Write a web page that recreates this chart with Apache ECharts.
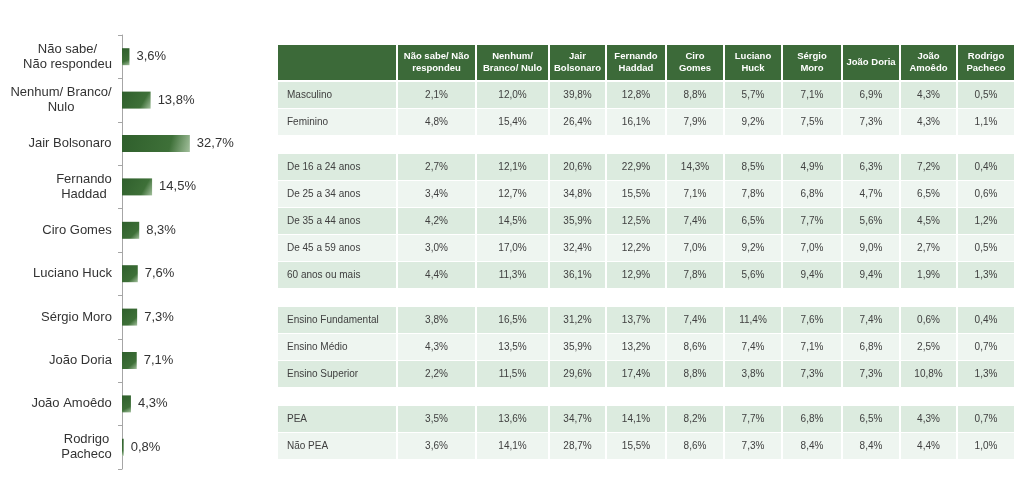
<!DOCTYPE html>
<html>
<head>
<meta charset="utf-8">
<script src="https://cdn.jsdelivr.net/npm/echarts@6/dist/echarts.min.js"></script>
<style>
  html, body { margin: 0; padding: 0; background: #fff; }
  #chart { width: 1017px; height: 482px; }
</style>
</head>
<body>
<div id="chart"></div>
<script>
// Intenção de voto (total)
var candidates = ['Não sabe/\nNão respondeu', 'Nenhum/ Branco/\nNulo', 'Jair Bolsonaro', 'Fernando\nHaddad',
    'Ciro Gomes', 'Luciano Huck', 'Sérgio Moro', 'João Doria', 'João Amoêdo', 'Rodrigo\nPacheco'];
var totals = [3.6, 13.8, 32.7, 14.5, 8.3, 7.6, 7.3, 7.1, 4.3, 0.8];

// Tabela por segmento
var tableHeaders = ['Não sabe/ Não\nrespondeu', 'Nenhum/\nBranco/ Nulo', 'Jair\nBolsonaro', 'Fernando\nHaddad',
    'Ciro\nGomes', 'Luciano\nHuck', 'Sérgio\nMoro', 'João Doria', 'João\nAmoêdo', 'Rodrigo\nPacheco'];
var rowGroups = [2, 5, 3, 2];
var rowLabels = ['Masculino', 'Feminino',
    'De 16 a 24 anos', 'De 25 a 34 anos', 'De 35 a 44 anos', 'De 45 a 59 anos', '60 anos ou mais',
    'Ensino Fundamental', 'Ensino Médio', 'Ensino Superior',
    'PEA', 'Não PEA'];
var rowValues = [
    [2.1, 12.0, 39.8, 12.8, 8.8, 5.7, 7.1, 6.9, 4.3, 0.5],
    [4.8, 15.4, 26.4, 16.1, 7.9, 9.2, 7.5, 7.3, 4.3, 1.1],
    [2.7, 12.1, 20.6, 22.9, 14.3, 8.5, 4.9, 6.3, 7.2, 0.4],
    [3.4, 12.7, 34.8, 15.5, 7.1, 7.8, 6.8, 4.7, 6.5, 0.6],
    [4.2, 14.5, 35.9, 12.5, 7.4, 6.5, 7.7, 5.6, 4.5, 1.2],
    [3.0, 17.0, 32.4, 12.2, 7.0, 9.2, 7.0, 9.0, 2.7, 0.5],
    [4.4, 11.3, 36.1, 12.9, 7.8, 5.6, 9.4, 9.4, 1.9, 1.3],
    [3.8, 16.5, 31.2, 13.7, 7.4, 11.4, 7.6, 7.4, 0.6, 0.4],
    [4.3, 13.5, 35.9, 13.2, 8.6, 7.4, 7.1, 6.8, 2.5, 0.7],
    [2.2, 11.5, 29.6, 17.4, 8.8, 3.8, 7.3, 7.3, 10.8, 1.3],
    [3.5, 13.6, 34.7, 14.1, 8.2, 7.7, 6.8, 6.5, 4.3, 0.7],
    [3.6, 14.1, 28.7, 15.5, 8.6, 7.3, 8.4, 8.4, 4.4, 1.0]
];

var FONT = 'Liberation Sans, Arial, sans-serif';

function pct(v) {
    return v.toFixed(1).replace('.', ',') + '%';
}

// multi-line axis labels: lines centred inside a right-aligned block
var measureCtx = document.createElement('canvas').getContext('2d');
measureCtx.font = '13px ' + FONT;
var labelRich = {};
candidates.forEach(function (name, i) {
    var w = 0;
    name.split('\n').forEach(function (line) {
        w = Math.max(w, measureCtx.measureText(line).width);
    });
    labelRich['c' + i] = { width: Math.ceil(w), align: 'center', fontSize: 13, color: '#333', lineHeight: 15 };
});

// layout of the table (in the table grid's own units)
var colWidths = [120, 79, 73, 57, 60, 58, 58, 60, 58, 57, 58];
var headerH = 36, rowH = 27, groupGap = 18;
var colEdges = [0];
colWidths.forEach(function (w) { colEdges.push(colEdges[colEdges.length - 1] + w); });

var cells = [];
// header
for (var c = 0; c < colWidths.length; c++) {
    cells.push({
        value: [colEdges[c], colEdges[c + 1], 0, headerH],
        text: c === 0 ? '' : tableHeaders[c - 1],
        kind: 'header', col: c
    });
}
var y = headerH + 1, r = 0;
rowGroups.forEach(function (n, g) {
    if (g > 0) y += groupGap;
    for (var k = 0; k < n; k++, r++) {
        for (var c2 = 0; c2 < colWidths.length; c2++) {
            cells.push({
                value: [colEdges[c2], colEdges[c2 + 1], y, y + rowH],
                text: c2 === 0 ? rowLabels[r] : pct(rowValues[r][c2 - 1]),
                kind: k % 2 === 0 ? 'dark' : 'light', col: c2
            });
        }
        y += rowH;
    }
});
var tableH = y;

var fills = { header: '#3c6a39', dark: '#dcebdf', light: '#eef5f0' };

var chart = echarts.init(document.getElementById('chart'));
chart.setOption({
    backgroundColor: '#ffffff',
    animation: false,
    textStyle: { fontFamily: FONT },
    grid: [
        { left: 122, top: 35, width: 83, height: 434 },
        { left: 278, top: 45, width: colEdges[colEdges.length - 1], height: tableH }
    ],
    xAxis: [
        { gridIndex: 0, type: 'value', min: 0, max: 40, show: false },
        { gridIndex: 1, type: 'value', min: 0, max: colEdges[colEdges.length - 1], show: false }
    ],
    yAxis: [
        {
            gridIndex: 0,
            type: 'category',
            inverse: true,
            data: candidates,
            axisLine: { show: true, lineStyle: { color: '#a6a6a6', width: 1 } },
            axisTick: { show: true, length: 4, lineStyle: { color: '#a6a6a6' } },
            axisLabel: {
                color: '#333',
                fontSize: 13,
                margin: 10,
                lineHeight: 15,
                align: 'right',
                formatter: function (value, idx) {
                    return value.split('\n').map(function (line) {
                        return '{c' + idx + '|' + line + '}';
                    }).join('\n');
                },
                rich: labelRich
            }
        },
        { gridIndex: 1, type: 'value', min: 0, max: tableH, inverse: true, show: false }
    ],
    series: [
        {
            type: 'bar',
            xAxisIndex: 0,
            yAxisIndex: 0,
            data: totals,
            barWidth: 17,
            itemStyle: {
                color: new echarts.graphic.LinearGradient(0, 0, 1, 1, [
                    { offset: 0, color: '#2f5f2c' },
                    { offset: 0.7, color: '#3e7038' },
                    { offset: 1, color: '#a3c09d' }
                ])
            },
            label: {
                show: true,
                position: 'right',
                distance: 7,
                color: '#333',
                fontSize: 13,
                formatter: function (p) { return pct(p.value); }
            }
        },
        {
            type: 'custom',
            xAxisIndex: 1,
            yAxisIndex: 1,
            data: cells.map(function (d) { return d.value; }),
            renderItem: function (params, api) {
                var cell = cells[params.dataIndex];
                var p0 = api.coord([api.value(0), api.value(2)]);
                var p1 = api.coord([api.value(1), api.value(3)]);
                var w = p1[0] - p0[0] - 2;
                var h = p1[1] - p0[1] - 1;
                var isHeader = cell.kind === 'header';
                var isLabel = cell.col === 0;
                return {
                    type: 'group',
                    children: [
                        {
                            type: 'rect',
                            shape: { x: p0[0], y: p0[1], width: w, height: h },
                            style: { fill: fills[cell.kind] }
                        },
                        {
                            type: 'text',
                            style: {
                                text: cell.text,
                                x: isLabel ? p0[0] + 9 : p0[0] + w / 2,
                                y: p0[1] + h / 2,
                                align: isLabel ? 'left' : 'center',
                                verticalAlign: 'middle',
                                fill: isHeader ? '#ffffff' : '#404040',
                                fontSize: isHeader ? 9.5 : 10,
                                fontWeight: isHeader ? 'bold' : 'normal',
                                lineHeight: 12,
                                fontFamily: FONT
                            }
                        }
                    ]
                };
            }
        }
    ]
});
</script>
</body>
</html>
